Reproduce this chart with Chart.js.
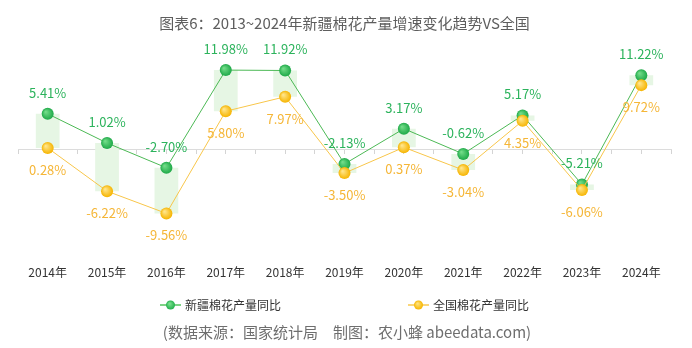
<!DOCTYPE html>
<html lang="zh">
<head>
    <meta charset="UTF-8">
    <title>新疆棉花产量增速变化趋势VS全国</title>
    <script src="https://cdn.jsdelivr.net/npm/chart.js@4.4.1/dist/chart.umd.min.js"></script>
    <style>
        * { margin: 0; padding: 0; box-sizing: border-box; }
        body { background: #fff; }
        .wrap { position: relative; width: 692px; height: 348px; }
    </style>
</head>
<body>
    <div class="wrap"><canvas id="chart"></canvas></div>

    <script>
        const years = ['2014年', '2015年', '2016年', '2017年', '2018年', '2019年',
                       '2020年', '2021年', '2022年', '2023年', '2024年'];
        // 新疆棉花产量同比 (%)
        const xinjiang = [5.41, 1.02, -2.70, 11.98, 11.92, -2.13, 3.17, -0.62, 5.17, -5.21, 11.22];
        // 全国棉花产量同比 (%)
        const national = [0.28, -6.22, -9.56, 5.80, 7.97, -3.50, 0.37, -3.04, 4.35, -6.06, 9.72];
        const seriesNames = ['新疆棉花产量同比', '全国棉花产量同比'];
        const titleText = '图表6：2013~2024年新疆棉花产量增速变化趋势VS全国';
        const sourceText = '(数据来源：国家统计局　制图：农小蜂 abeedata.com)';

        const FONT = "'Noto Sans CJK SC', 'Noto Sans', sans-serif";
        Chart.defaults.font.family = FONT;

        // 浅绿色柱：全国与新疆之间的差
        const gapBars = years.map((_, i) => [national[i], xinjiang[i]]);

        function ballColor(inner, outer) {
            return function (ctx) {
                const chart = ctx.chart;
                const xs = chart.scales.x, ys = chart.scales.y;
                const v = ctx.dataset.data[ctx.dataIndex];
                if (!xs || !ys || v == null) return outer;
                const px = xs.getPixelForValue(ctx.dataIndex);
                const py = ys.getPixelForValue(v);
                if (!isFinite(px) || !isFinite(py)) return outer;
                const g = chart.ctx.createRadialGradient(px - 2, py - 2, 0.5, px, py, 6);
                g.addColorStop(0, inner);
                g.addColorStop(1, outer);
                return g;
            };
        }

        // 数值标签：新疆在点上方，全国在点下方
        const valueLabels = {
            id: 'valueLabels',
            afterDatasetsDraw(chart) {
                const ctx = chart.ctx;
                ctx.save();
                ctx.font = '13px ' + FONT;
                ctx.textAlign = 'center';
                ctx.textBaseline = 'middle';
                [[1, '#2cb35c', -21], [2, '#f5b637', 22]].forEach(([di, color, dy]) => {
                    const meta = chart.getDatasetMeta(di);
                    const data = chart.data.datasets[di].data;
                    ctx.fillStyle = color;
                    meta.data.forEach((pt, i) => {
                        ctx.fillText(data[i].toFixed(2) + '%', pt.x, pt.y + dy);
                    });
                });
                ctx.restore();
            }
        };

        // 图例和数据来源
        const footer = {
            id: 'footer',
            afterDraw(chart) {
                const ctx = chart.ctx;
                ctx.save();
                const items = [
                    { x: 160, line: '#52c45e', inner: '#7be08f', outer: '#22b04c', text: seriesNames[0] },
                    { x: 408, line: '#f8c84c', inner: '#ffe27a', outer: '#f6b500', text: seriesNames[1] }
                ];
                const ly = 305;
                items.forEach(it => {
                    ctx.strokeStyle = it.line;
                    ctx.lineWidth = 1.5;
                    ctx.beginPath();
                    ctx.moveTo(it.x, ly);
                    ctx.lineTo(it.x + 21, ly);
                    ctx.stroke();
                    const g = ctx.createRadialGradient(it.x + 9.5, ly - 1.5, 0.5, it.x + 10.5, ly, 4.5);
                    g.addColorStop(0, it.inner);
                    g.addColorStop(1, it.outer);
                    ctx.fillStyle = g;
                    ctx.beginPath();
                    ctx.arc(it.x + 10.5, ly, 4.5, 0, Math.PI * 2);
                    ctx.fill();
                    ctx.fillStyle = '#333';
                    ctx.font = '12px ' + FONT;
                    ctx.textAlign = 'left';
                    ctx.textBaseline = 'middle';
                    ctx.fillText(it.text, it.x + 25, ly);
                });
                ctx.fillStyle = '#6e6e6e';
                ctx.font = '15px ' + FONT;
                ctx.textAlign = 'center';
                ctx.textBaseline = 'middle';
                ctx.fillText(sourceText, 347, 332);
                ctx.restore();
            }
        };

        const zeroAxis = (gridOffset) => ({
            type: 'category',
            offset: true,
            position: { y: 0 },
            grid: {
                offset: gridOffset,
                drawOnChartArea: false,
                drawTicks: true,
                tickLength: 4,
                tickColor: '#d4d4d4'
            },
            border: { display: true, color: '#dcdcdc', width: 1 },
            ticks: { display: false }
        });

        new Chart(document.getElementById('chart'), {
            type: 'bar',
            data: {
                labels: years,
                datasets: [{
                    type: 'bar',
                    label: '差值',
                    data: gapBars,
                    backgroundColor: '#e6f6e4',
                    borderWidth: 0,
                    categoryPercentage: 1,
                    barPercentage: 0.4,
                    order: 3
                }, {
                    type: 'line',
                    label: seriesNames[0],
                    data: xinjiang,
                    borderColor: '#4cb955',
                    borderWidth: 1,
                    pointRadius: 6,
                    pointHoverRadius: 6,
                    pointBorderWidth: 0,
                    pointBackgroundColor: ballColor('#72dc88', '#1ea948'),
                    tension: 0,
                    order: 2
                }, {
                    type: 'line',
                    label: seriesNames[1],
                    data: national,
                    borderColor: '#f8c64a',
                    borderWidth: 1,
                    pointRadius: 6,
                    pointHoverRadius: 6,
                    pointBorderWidth: 0,
                    pointBackgroundColor: ballColor('#ffe58a', '#f6b400'),
                    tension: 0,
                    order: 1
                }]
            },
            options: {
                responsive: true,
                maintainAspectRatio: false,
                animation: false,
                layout: { padding: { left: 18, right: 21, top: 0, bottom: 52 } },
                plugins: {
                    legend: { display: false },
                    tooltip: { enabled: false },
                    title: {
                        display: true,
                        text: titleText,
                        color: '#5e5e5e',
                        font: { size: 15, weight: 'normal' },
                        padding: { top: 14, bottom: 18 }
                    }
                },
                scales: {
                    x: {
                        offset: true,
                        grid: { display: false, drawTicks: false },
                        border: { display: false },
                        ticks: { color: '#333', font: { size: 12 }, padding: 16 }
                    },
                    xz1: zeroAxis(false),
                    xz2: zeroAxis(true),
                    y: {
                        display: false,
                        min: -15,
                        max: 15
                    }
                }
            },
            plugins: [valueLabels, footer]
        });
    </script>
</body>
</html>
